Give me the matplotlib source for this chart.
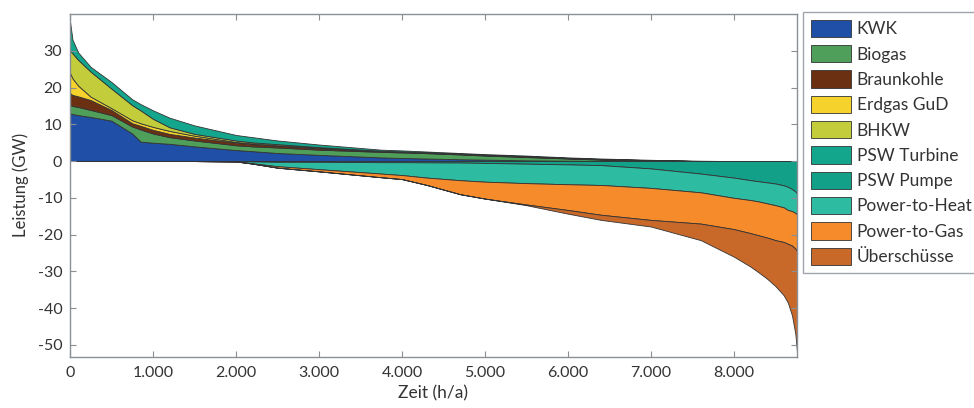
import matplotlib
matplotlib.use("Agg")
import matplotlib.pyplot as plt
import numpy as np
from matplotlib.ticker import FuncFormatter

plt.rcParams['font.family'] = ['Lato', 'DejaVu Sans']
plt.rcParams['axes.unicode_minus'] = False

# Hours of the year (sorted duration curve)
hours = [0, 30, 100, 250, 500, 750, 850, 1000, 1200, 1500, 2000, 2200, 2500, 3000,
         3750, 4000, 4300, 4700, 5000, 5500, 6000, 6400, 7000, 7600, 8000, 8200,
         8300, 8400, 8500, 8600, 8650, 8700, 8740, 8760]

# Positive layers (GW)
kwk         = [13.0, 12.8, 12.5, 12.0, 11.0, 7.5, 5.3, 5.0, 4.7, 4.0, 3.0, 2.7, 2.2, 1.7,
               1.0, 0.85, 0.7, 0.5, 0.4, 0.2, 0.1, 0.05, 0, 0, 0, 0,
               0, 0, 0, 0, 0, 0, 0, 0]
biogas      = [2.3, 2.2, 2.2, 1.9, 1.5, 1.9, 3.3, 2.5, 1.8, 1.6, 1.3, 1.3, 1.5, 1.4,
               1.5, 1.5, 1.45, 1.3, 1.1, 0.9, 0.6, 0.35, 0.15, 0, 0, 0,
               0, 0, 0, 0, 0, 0, 0, 0]
braunkohle  = [3.2, 3.0, 2.9, 2.7, 1.4, 0.9, 1.0, 1.0, 0.9, 0.8, 0.7, 0.6, 0.5, 0.4,
               0.2, 0.15, 0.1, 0.1, 0.1, 0.1, 0.1, 0.1, 0.05, 0, 0, 0,
               0, 0, 0, 0, 0, 0, 0, 0]
erdgas_gud  = [5.5, 4.5, 2.9, 0.9, 0.5, 0.8, 0.7, 0.8, 0.8, 0.5, 0.2, 0.2, 0.1, 0.1,
               0.05, 0.05, 0.05, 0.05, 0.05, 0.05, 0, 0, 0, 0, 0, 0,
               0, 0, 0, 0, 0, 0, 0, 0]
bhkw        = [6.0, 6.8, 7.0, 6.8, 5.3, 4.1, 3.5, 2.2, 1.0, 0.5, 0.4, 0.3, 0.3, 0.2,
               0.05, 0.05, 0.05, 0.05, 0.05, 0.05, 0.05, 0.05, 0.05, 0, 0, 0,
               0, 0, 0, 0, 0, 0, 0, 0]
psw_turbine = [8.0, 3.7, 2.0, 1.3, 1.8, 1.6, 1.7, 2.3, 2.6, 2.3, 1.5, 1.4, 1.0, 0.7,
               0.3, 0.3, 0.25, 0.2, 0.2, 0.2, 0.15, 0.15, 0.1, 0.1, 0, 0,
               0, 0, 0, 0, 0, 0, 0, 0]

# Negative layers (GW, drawn downward)
psw_pumpe     = [0, 0, 0, 0, 0, 0, 0, 0, 0, 0, 0, 0.1, 0.2, 0.2,
                 0.3, 0.3, 0.35, 0.4, 0.5, 0.7, 0.9, 1.1, 2.0, 3.4, 4.5, 5.2,
                 5.5, 5.8, 6.1, 6.6, 7.0, 7.6, 8.3, 8.8]
power_to_heat = [0, 0, 0, 0, 0, 0, 0, 0, 0, 0, 0.1, 0.5, 1.2, 2.0,
                 3.1, 3.5, 4.15, 4.8, 5.1, 5.3, 5.4, 5.4, 5.3, 5.1, 5.5, 5.4,
                 5.5, 5.7, 5.9, 6.0, 6.3, 6.0, 5.8, 5.7]
power_to_gas  = [0, 0, 0, 0, 0, 0, 0, 0, 0, 0, 0, 0.1, 0.4, 0.6,
                 1.0, 1.1, 2.0, 3.8, 4.6, 5.8, 7.0, 8.1, 8.7, 8.5, 8.5, 9.0,
                 9.2, 9.3, 9.5, 9.4, 9.2, 9.4, 9.7, 10.0]
ueberschuesse = [0, 0, 0, 0, 0, 0, 0, 0, 0, 0, 0, 0, 0, 0,
                 0, 0, 0, 0, 0, 0.2, 1.0, 1.4, 1.8, 4.5, 7.5, 9.1,
                 10.1, 11.2, 12.5, 14.5, 16.0, 19.0, 23.2, 27.5]

pos_labels = ["KWK", "Biogas", "Braunkohle", "Erdgas GuD", "BHKW", "PSW Turbine"]
neg_labels = ["PSW Pumpe", "Power-to-Heat", "Power-to-Gas", "Überschüsse"]
pos_colors = ["#1f4fa6", "#4f9f5b", "#6b3012", "#f6d22c", "#c3cd3c", "#14a68c"]
neg_colors = ["#13a088", "#2dbba2", "#f58b2b", "#c8692a"]

fig = plt.figure(figsize=(9.74, 4.08), dpi=100)
ax = fig.add_axes([70/974, 1-356.7/408, (797-70)/974, (356.7-14)/408])

x = np.array(hours, dtype=float)
pos = [kwk, biogas, braunkohle, erdgas_gud, bhkw, psw_turbine]
neg = [psw_pumpe, power_to_heat, power_to_gas, ueberschuesse]

ax.stackplot(x, *[np.array(s) for s in pos], colors=pos_colors, labels=pos_labels,
             edgecolor="#333333", linewidth=0.6)
ax.stackplot(x, *[-np.array(s) for s in neg], colors=neg_colors, labels=neg_labels,
             edgecolor="#333333", linewidth=0.6)

ax.set_xlim(0, 8760)
ax.set_ylim(-53.2, 40)
ax.set_xticks(range(0, 9000, 1000))
ax.xaxis.set_major_formatter(FuncFormatter(lambda v, p: "0" if v == 0 else f"{int(v)//1000}.000"))
ax.set_yticks(range(-50, 31, 10))

tc = "#333333"
for s in ax.spines.values():
    s.set_color("#8a8f96")
    s.set_linewidth(1.0)
ax.tick_params(direction="in", top=True, right=True, length=4, color="#8a8f96",
               labelsize=11.5, labelcolor=tc)
ax.tick_params(axis="x", pad=6.5)
ax.tick_params(axis="y", pad=5.5)
ax.set_xlabel("Zeit (h/a)", fontsize=12.5, color=tc, labelpad=4)
ax.set_ylabel("Leistung (GW)", fontsize=12, color=tc, labelpad=6)

handles, labels = ax.get_legend_handles_labels()
leg = fig.legend(handles, labels, loc="upper left", bbox_to_anchor=(803/974, 1-12/408),
                 fontsize=12.5, frameon=True, fancybox=False, edgecolor="#8a8f96",
                 handlelength=2.3, handleheight=1.15, labelspacing=0.45,
                 handletextpad=0.35, borderpad=0.45, borderaxespad=0)
leg.get_frame().set_linewidth(1.0)
for t in leg.get_texts():
    t.set_color(tc)

fig.savefig("out.png", dpi=100)
